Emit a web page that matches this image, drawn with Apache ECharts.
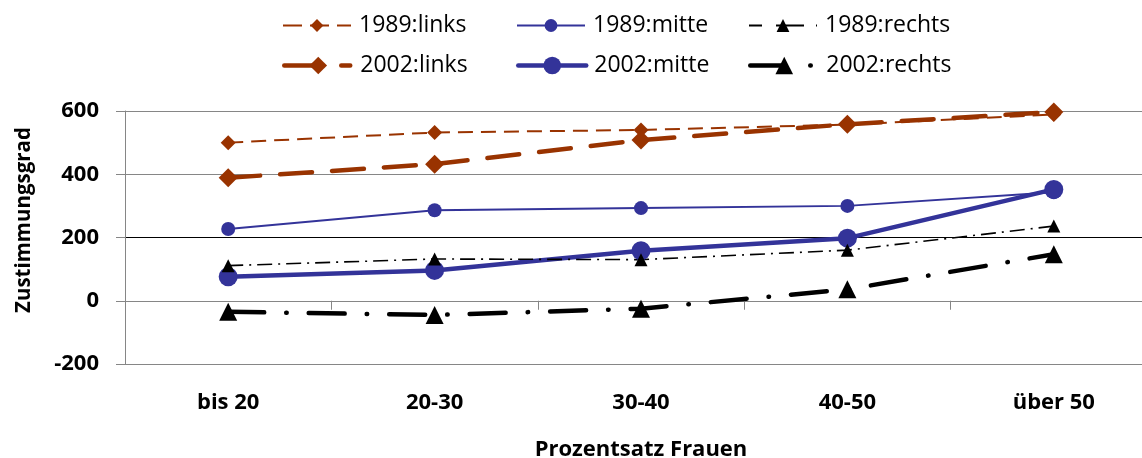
<!DOCTYPE html>
<html><head><meta charset="utf-8">
<script src="https://cdn.jsdelivr.net/npm/echarts@6/dist/echarts.min.js"></script>
<style>html,body{margin:0;padding:0;background:#fff}#c{width:1142px;height:458px}</style>
</head><body><div id="c"></div>
<script>
const categories = ['bis 20', '20-30', '30-40', '40-50', 'über 50'];
const links1989 = [500, 532, 540, 557, 589];
const mitte1989 = [227, 286, 293, 300, 343];
const rechts1989 = [111, 132, 130, 160, 236];
const links2002 = [389, 432, 508, 558, 597];
const mitte2002 = [76, 96, 158, 198, 352];
const rechts2002 = [-35, -45, -25, 36, 147];
const seriesNames = ['1989:links', '1989:mitte', '1989:rechts', '2002:links', '2002:mitte', '2002:rechts'];
const yMin = -200, yMax = 600, yStep = 200;

const BROWN = '#993300', BLUE = '#333399', BLACK = '#000000';
const FONT = 'Open Sans';

const chart = echarts.init(document.getElementById('c'), null, {renderer: 'canvas'});

function mk(name, data, color, width, dash, cap, symbol, size) {
  return {
    name: name, type: 'line', data: data,
    symbol: symbol, symbolSize: size,
    itemStyle: {color: color, borderWidth: 0},
    lineStyle: {color: color, width: width, type: dash, cap: cap},
    emphasis: {disabled: true},
    animation: false
  };
}

const series = [
  mk(seriesNames[0], links1989, BROWN, 2, [15, 8], 'butt', 'diamond', 15),
  mk(seriesNames[3], links2002, BROWN, 4.5, [32, 20], 'round', 'diamond', 19),
  mk(seriesNames[1], mitte1989, BLUE, 2, 'solid', 'butt', 'circle', 14),
  mk(seriesNames[4], mitte2002, BLUE, 4.5, 'solid', 'round', 'circle', 19),
  mk(seriesNames[2], rechts1989, BLACK, 1.6, [15, 6, 2, 6], 'butt', 'triangle', 13),
  mk(seriesNames[5], rechts2002, BLACK, 4.5, [36, 22, 0.5, 22], 'round', 'triangle', 18)
];

// legend icon styles (icon width 68)
const legendCfg = [
  {left: 282, top: 14, h: 16, line: {width: 2, type: [19, 8], cap: 'butt'}},
  {left: 516, top: 14, h: 16, line: {width: 2, type: 'solid', cap: 'butt'}},
  {left: 748, top: 14, h: 16, line: {width: 2, type: [13, 14, 28, 12, 2, 20], cap: 'butt'}},
  {left: 282, top: 54, h: 22, line: {width: 4.5, type: [30, 27, 9, 30], cap: 'round'}},
  {left: 516, top: 54, h: 22, line: {width: 4.5, type: 'solid', cap: 'round'}},
  {left: 748, top: 54, h: 22, line: {width: 4.5, type: [33, 27, 0.5, 30], cap: 'round'}}
];
const legends = seriesNames.map((n, i) => ({
  data: [n], left: legendCfg[i].left, top: legendCfg[i].top,
  itemWidth: 68, itemHeight: legendCfg[i].h, selectedMode: false, padding: 0,
  lineStyle: legendCfg[i].line,
  textStyle: {fontFamily: FONT, fontSize: 23, color: '#000', padding: [0, 0, 0, 3]}
}));

chart.setOption({
  backgroundColor: '#fff',
  animation: false,
  legend: legends,
  grid: {left: 125, right: -15, top: 111, bottom: 94, containLabel: false, outerBoundsMode: 'none'},
  xAxis: {
    type: 'category', data: categories, boundaryGap: true,
    axisLine: {show: true, lineStyle: {color: '#868686', width: 1}},
    axisTick: {show: true, length: 9, inside: false, lineStyle: {color: '#868686'}},
    axisLabel: {margin: 28, fontFamily: FONT, fontSize: 22, fontWeight: 'bold', color: '#000'},
    name: 'Prozentsatz Frauen', nameLocation: 'middle', nameGap: 75,
    nameTextStyle: {fontFamily: FONT, fontSize: 22, fontWeight: 'bold', color: '#000'}
  },
  yAxis: {
    type: 'value', min: yMin, max: yMax, interval: yStep,
    axisLine: {show: true, lineStyle: {color: '#868686', width: 1}},
    axisTick: {show: true, length: 9, inside: false, lineStyle: {color: '#868686'}},
    axisLabel: {margin: 26, fontFamily: FONT, fontSize: 22, fontWeight: 'bold', color: '#000'},
    splitLine: {show: true, lineStyle: {color: ['#868686', '#000000', '#000000', '#868686', '#868686'], width: 1}},
    name: 'Zustimmungsgrad', nameLocation: 'middle', nameGap: 90,
    nameTextStyle: {fontFamily: FONT, fontSize: 20.5, fontWeight: 'bold', color: '#000', padding: [0, 0, 0, 35]}
  },
  series: series
});
</script></body></html>
